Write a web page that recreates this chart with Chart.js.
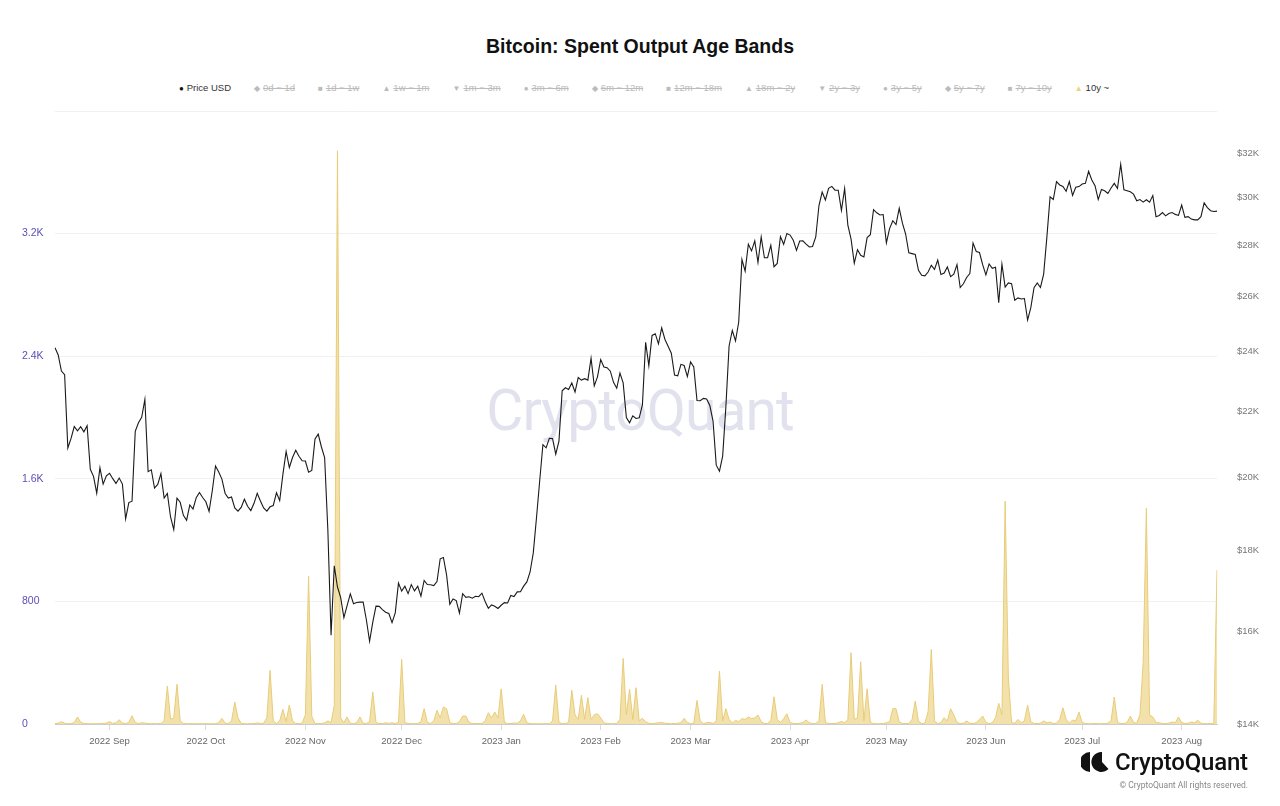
<!DOCTYPE html>
<html>
<head>
<meta charset="utf-8">
<script src="https://cdn.jsdelivr.net/npm/chart.js@4.4.1/dist/chart.umd.min.js"></script>
<style>
  html, body { margin:0; padding:0; background:#fff; }
  #wrap { position:relative; width:1280px; height:806px; overflow:hidden; font-family:"Liberation Sans", Arial, sans-serif; }
  #title { position:absolute; left:0; width:1280px; top:35px; text-align:center; font-weight:bold; font-size:19.5px; color:#111; }
  #legend { position:absolute; left:0; width:1288px; top:82px; display:flex; justify-content:center; gap:23px; font-size:9.5px; color:#333; white-space:nowrap; }
  #legend .it.off { color:#bbb; text-decoration:line-through; }
  #legend .mk { display:inline-block; margin-right:3px; font-size:8px; }
  #wm { position:absolute; left:0; width:1280px; top:377px; text-align:center; font-family:Roboto, sans-serif; font-size:57px; letter-spacing:-1px; color:#e2e2ee; z-index:0; }
  #cv { position:absolute; left:0; top:0; z-index:1; }
  #logo { position:absolute; left:1081px; top:748px; z-index:2; display:flex; align-items:center; }
  #logo span { font-family:Roboto, sans-serif; font-size:24px; font-weight:500; color:#111; margin-left:6px; letter-spacing:-0.2px; }
  #copy { position:absolute; right:32px; top:780px; font-family:Roboto, sans-serif; font-size:8.5px; color:#888; z-index:2; }
</style>
</head>
<body>
<div id="wrap">
  <div id="title">Bitcoin: Spent Output Age Bands</div>
  <div id="legend"></div>
  <div id="wm">CryptoQuant</div>
  <canvas id="cv" width="1280" height="806"></canvas>
  <div id="logo">
    <svg width="28" height="22" viewBox="0 0 28 22">
      <path d="M9 1 A10 10 0 0 0 9 21 Z" fill="#111"/>
      <path d="M21 1 A10 10 0 1 0 27.5 18 L21 11 Z" fill="#111"/>
    </svg>
    <span>CryptoQuant</span>
  </div>
  <div id="copy">© CryptoQuant All rights reserved.</div>
</div>
<script>
// ---- Data ----
const startDate = "2022-08-15";   // first daily category
const legendNames = ["Price USD","0d ~ 1d","1d ~ 1w","1w ~ 1m","1m ~ 3m","3m ~ 6m","6m ~ 12m","12m ~ 18m","18m ~ 2y","2y ~ 3y","3y ~ 5y","5y ~ 7y","7y ~ 10y","10y ~"];
const legendMarks = ["●","◆","■","▲","▼","●","◆","■","▲","▼","●","◆","■","▲"];
const legendVisible = [true,false,false,false,false,false,false,false,false,false,false,false,false,true];

const priceUSD = [
// Aug 15-31 2022
24136,23883,23336,23212,20877,21166,21534,21398,21529,21369,21560,20241,20037,19555,20285,19812,20050,
// Sep
20127,19969,19832,19986,19812,18837,19290,19329,21382,21652,21826,22395,20174,20228,19701,19804,20113,19416,19545,18891,18547,19414,19298,18938,18803,19222,19111,19426,19574,19431,
// Oct
19312,19045,19623,20336,20160,19955,19546,19417,19446,19141,19051,19157,19382,19185,19068,19268,19550,19334,19139,19053,19172,19208,19567,19345,20095,20771,20295,20591,20809,20627,20495,
// Nov
20485,20159,20209,21148,21300,20906,20591,18547,15922,17602,17070,16812,16330,16619,16901,16663,16692,16700,16700,16280,15781,16226,16603,16599,16522,16459,16428,16213,16442,17168,
// Dec
16968,17089,16908,17130,16975,17089,16847,17233,17133,17128,17105,17208,17782,17815,17365,16648,16778,16737,16439,16907,16818,16831,16796,16842,16832,16919,16717,16553,16634,16603,16548,
// Jan 2023
16625,16688,16680,16863,16836,16951,16955,17091,17197,17446,17934,18869,19910,20976,20880,21170,21161,20688,21086,22676,22777,22720,22934,22636,23117,23032,23078,23031,23774,22840,23139,
// Feb
23723,23471,23449,23331,22955,22760,23264,22939,21819,21651,21871,21788,21808,22220,24327,23517,24569,24631,24272,24837,24436,24188,23947,23198,23175,23562,23522,23147,
// Mar
23646,23475,22362,22354,22430,22410,22198,21705,20363,20187,20633,22163,24197,24746,24375,25052,27423,26966,28038,27768,28176,27307,28333,27493,27494,27994,27139,27268,28348,28033,28478,
// Apr
28411,28199,27790,28168,28177,28044,27925,27947,28333,29653,30235,29892,30399,30485,30318,30315,29445,30397,28823,28245,27276,27817,27591,27525,28307,28423,29473,29341,29248,29268,
// May
28091,28680,29006,28847,29534,28904,28454,27694,27658,27621,27000,26805,26784,26931,27192,27036,27399,26833,26890,27129,26754,26851,27225,26334,26477,26719,26868,28085,27745,27702,27219,
// Jun
26819,27249,27075,27119,25760,27238,26346,26508,26480,25851,25940,25902,25918,25124,25576,26327,26510,26336,26851,28327,30027,29912,30695,30548,30480,30271,30697,30086,30445,30477,
// Jul
30590,30620,31156,30767,30514,29910,30347,30292,30172,30414,30620,30391,31476,30334,30295,30249,30145,29857,29910,29800,29902,29795,30084,29177,29228,29354,29213,29314,29352,29275,29231,
// Aug 1-12
29675,29151,29179,29075,29043,29041,29180,29766,29561,29429,29397,29412
];

const spent10y = [
3,5,15,5,2,2,10,46,12,3,
2,2,2,2,2,3,6,15,4,8,
28,6,3,10,54,10,3,8,6,3,
2,2,2,3,20,248,30,40,259,20,
3,2,2,2,2,2,2,2,2,2,
2,8,37,5,3,20,143,40,5,2,
2,2,3,7,3,5,40,350,20,3,
20,96,15,124,20,3,2,5,60,965,
50,3,2,3,8,20,10,120,3740,40,
8,46,5,3,8,46,5,3,15,209,
10,3,3,8,4,8,3,10,422,10,
3,2,2,3,15,100,10,3,20,89,
40,111,100,10,3,3,15,52,52,10,
3,3,3,3,20,74,40,78,40,230,
10,3,3,6,5,20,63,8,3,2,
2,2,2,2,2,20,254,10,2,3,
10,220,60,30,187,30,172,30,60,67,
40,8,3,2,2,3,30,428,60,226,
30,237,20,37,15,5,3,5,8,10,
5,3,2,3,5,8,37,10,3,5,
154,20,3,8,10,3,20,346,20,100,
30,5,24,15,35,30,46,35,40,59,
15,3,3,20,178,30,10,35,67,10,
3,3,5,10,26,8,3,3,20,259,
10,3,3,3,8,17,8,30,465,30,
40,406,20,230,10,3,2,2,3,8,
15,100,100,15,3,3,3,30,150,20,
3,5,80,487,20,3,8,41,20,100,
60,10,3,5,20,5,3,8,30,52,
10,3,8,40,135,60,1454,300,10,5,
30,8,20,124,15,3,3,5,20,8,
13,3,5,30,106,30,5,26,20,78,
10,3,2,2,3,2,2,3,5,20,
176,10,3,3,10,52,10,5,60,400,
1408,60,46,10,8,3,3,5,13,8,
46,10,3,5,13,8,24,5,3,2,
3,3,1004
];

const leftTicks = [0,800,1600,2400,3200,4000];
const rightTicks = [14000,16000,18000,20000,22000,24000,26000,28000,30000,32000];

// ---- Build categories (daily dates) ----
const monthNames = ["Jan","Feb","Mar","Apr","May","Jun","Jul","Aug","Sep","Oct","Nov","Dec"];
const dates = [];
{
  const d0 = new Date(startDate + "T00:00:00Z");
  for (let i = 0; i < priceUSD.length; i++) {
    const d = new Date(d0.getTime() + i * 86400000);
    dates.push(d.toISOString().slice(0,10));
  }
}

// ---- Legend ----
const lg = document.getElementById('legend');
legendNames.forEach((n, i) => {
  const el = document.createElement('span');
  el.className = 'it' + (legendVisible[i] ? '' : ' off');
  const mk = document.createElement('span');
  mk.className = 'mk';
  mk.textContent = legendMarks[i];
  if (i === 0) mk.style.color = '#111';
  if (i === legendNames.length - 1) mk.style.color = '#ecd27c';
  el.appendChild(mk);
  el.appendChild(document.createTextNode(n));
  lg.appendChild(el);
});

// ---- Chart ----
const fmtK = v => v === 0 ? '0' : (v >= 1000 ? (v/1000).toFixed(1).replace(/\.0$/,'') + 'K' : String(v));

new Chart(document.getElementById('cv'), {
  type: 'line',
  data: {
    labels: dates,
    datasets: [
      {
        label: 'Price USD',
        data: priceUSD,
        yAxisID: 'yR',
        borderColor: '#1a1a1a',
        borderWidth: 1.1,
        pointRadius: 0,
        tension: 0,
        fill: false
      },
      {
        label: '10y ~',
        data: spent10y,
        yAxisID: 'yL',
        borderColor: '#e8cc78',
        backgroundColor: 'rgba(240,218,150,0.8)',
        borderWidth: 1,
        pointRadius: 0,
        tension: 0,
        fill: 'origin'
      }
    ]
  },
  options: {
    responsive: false,
    animation: false,
    devicePixelRatio: 1,
    layout: { padding: { left: 22, right: 0, top: 111, bottom: 52 } },
    plugins: { legend: { display: false }, tooltip: { enabled: false } },
    scales: {
      x: {
        type: 'category',
        offset: false,
        afterBuildTicks: s => { s.ticks = s.ticks.filter(t => dates[t.value].slice(8,10) === '01'); },
        afterFit: s => { s.height = 30; },
        ticks: {
          autoSkip: false, maxRotation: 0, minRotation: 0, padding: 6,
          color: '#666', font: { family: '"Liberation Sans", Arial, sans-serif', size: 9.5 },
          callback: function(v) { const d = dates[v]; return d.slice(0,4) + ' ' + monthNames[parseInt(d.slice(5,7),10)-1]; }
        },
        grid: { display: true, drawOnChartArea: false, drawTicks: true, tickLength: 6, color: '#dddddd' },
        border: { display: true, color: '#cccccc' }
      },
      yL: {
        type: 'linear',
        position: 'left',
        min: 0, max: 4000,
        afterBuildTicks: s => { s.ticks = leftTicks.map(v => ({ value: v })); },
        afterFit: s => { s.width = 33; },
        ticks: {
          crossAlign: 'far', padding: 0,
          color: '#5b50b5', font: { family: '"Liberation Sans", Arial, sans-serif', size: 10.5 },
          callback: v => v === 4000 ? '' : fmtK(v)
        },
        grid: { color: '#f1f1f1', drawTicks: false },
        border: { display: false }
      },
      yR: {
        type: 'logarithmic',
        position: 'right',
        min: 14000, max: 34000,
        afterBuildTicks: s => { s.ticks = rightTicks.map(v => ({ value: v })); },
        afterFit: s => { s.width = 63; },
        ticks: {
          padding: 20,
          color: '#777', font: { family: '"Liberation Sans", Arial, sans-serif', size: 9.5 },
          callback: v => '$' + (v/1000) + 'K'
        },
        grid: { display: false, drawTicks: false },
        border: { display: false }
      }
    }
  }
});
</script>
</body>
</html>
